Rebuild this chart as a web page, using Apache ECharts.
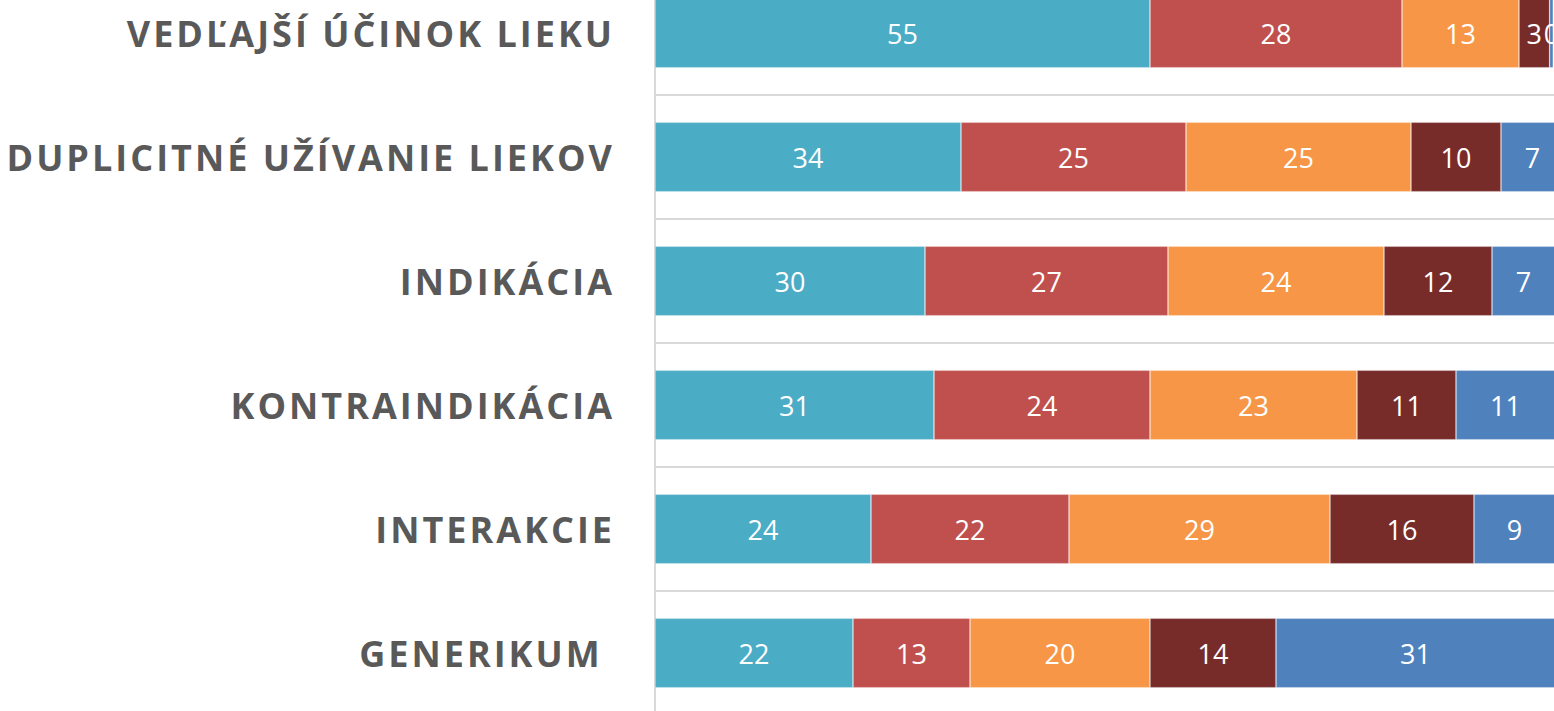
<!DOCTYPE html>
<html>
<head>
<meta charset="utf-8">
<script src="https://cdn.jsdelivr.net/npm/echarts@6/dist/echarts.min.js"></script>
<style>
  html, body { margin: 0; padding: 0; background: #fff; }
  #chart { width: 1554px; height: 711px; }
  /* rozostup pismen v popiskoch kategorii */
  #chart text[style*="bold"] { letter-spacing: 3px; }
</style>
</head>
<body>
<div id="chart"></div>
<script>
// kategorie (zhora nadol)
const categories = [
  'VEDĽAJŠÍ ÚČINOK LIEKU',
  'DUPLICITNÉ UŽÍVANIE LIEKOV',
  'INDIKÁCIA',
  'KONTRAINDIKÁCIA',
  'INTERAKCIE',
  'GENERIKUM '
]

// hodnoty jednotlivych segmentov
const seria1 = [55, 34, 30, 31, 24, 22]
const seria2 = [28, 25, 27, 24, 22, 13]
const seria3 = [13, 25, 24, 23, 29, 20]
const seria4 = [3.4, 10, 12, 11, 16, 14]
const seria5 = [0.4, 7, 7, 11, 9, 31]

const seriesNames = ['Séria 1', 'Séria 2', 'Séria 3', 'Séria 4', 'Séria 5']
const colors = ['#4BACC6', '#C0504D', '#F79646', '#772C2A', '#4F81BD']

const chart = echarts.init(document.getElementById('chart'), null, { renderer: 'svg' })

const series = [seria1, seria2, seria3, seria4, seria5].map((data, i) => ({
  name: seriesNames[i],
  type: 'bar',
  stack: 'spolu',
  data: data,
  barCategoryGap: '44%',
  itemStyle: {
    color: colors[i],
    borderColor: 'rgba(255,255,255,0.5)',
    borderWidth: 0.6
  },
  label: {
    show: true,
    position: 'inside',
    color: '#fff',
    fontFamily: 'Open Sans',
    fontSize: 27,
    formatter: p => Math.round(p.value)
  }
}))

chart.setOption({
  animation: false,
  grid: {
    left: 655,
    top: -29,
    height: 744,
    width: 990,
    outerBoundsMode: 'none'
  },
  xAxis: {
    type: 'value',
    min: 0,
    max: 110,
    show: false
  },
  yAxis: {
    type: 'category',
    inverse: true,
    data: categories,
    axisLine: { show: true, lineStyle: { color: '#d9d9d9', width: 2 } },
    axisTick: { show: false },
    splitLine: { show: true, lineStyle: { color: '#d9d9d9', width: 2 } },
    axisLabel: {
      margin: 40,
      color: '#595959',
      fontFamily: 'Open Sans',
      fontWeight: 'bold',
      fontSize: 36
    }
  },
  series: series
})
</script>
</body>
</html>
